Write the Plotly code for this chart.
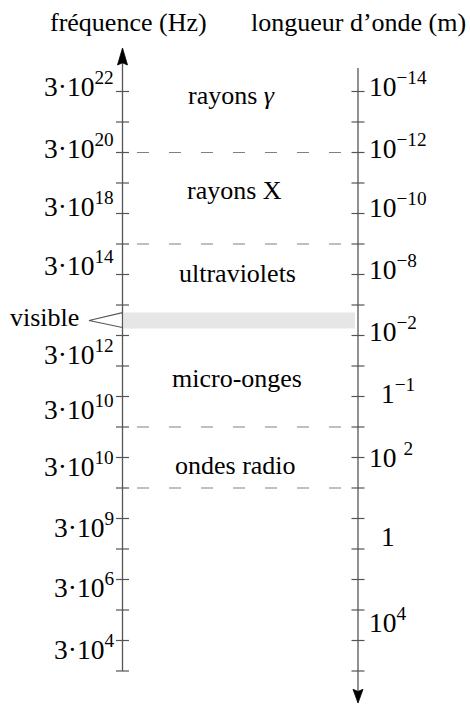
import plotly.graph_objects as go

# ---- data -------------------------------------------------------------
# Vertical positions are expressed in "graduation" units: 0 is the first
# graduation near the top, 19 the last one at the bottom.
n_grad = 20

freq_labels = ["3·10<sup>22</sup>", "3·10<sup>20</sup>", "3·10<sup>18</sup>",
               "3·10<sup>14</sup>", "3·10<sup>12</sup>", "3·10<sup>10</sup>",
               "3·10<sup>10</sup>", "3·10<sup>9</sup>", "3·10<sup>6</sup>",
               "3·10<sup>4</sup>"]
freq_at = [0.18, 2.21, 4.11, 6.05, 8.97, 10.77, 12.64, 14.64, 16.61, 18.64]

wave_labels = ["10<sup>−14</sup>", "10<sup>−12</sup>", "10<sup>−10</sup>",
               "10<sup>−8</sup>", "10<sup>−2</sup>", "1<sup>−1</sup>",
               "10 <sup>2</sup>", "1", "10<sup>4</sup>"]
wave_at = [0.18, 2.21, 4.15, 6.18, 8.21, 10.25, 12.34, 14.93, 17.77]

domains = ["rayons <i>γ</i>", "rayons X", "ultraviolets", "micro-onges", "ondes radio"]
domain_at = [0.44, 3.56, 6.28, 9.72, 12.57]
domain_x = [231, 234, 237, 237, 235]

boundaries = [2, 5, 11, 13]          # dashed separations between domains
visible_band = [7.25, 7.77]

# ---- geometry / style -------------------------------------------------
W, H = 470, 704
Y_RANGE = [20.082, -3.0]
PX = H / (Y_RANGE[0] - Y_RANGE[1])   # pixels per graduation
X_LEFT, X_RIGHT = 122.5, 358
TICK_HALF = 6.5
AX_COL = "#555555"
FONT = "Liberation Serif"
FS = 26          # titles and domain names
FS_TICK = 27.5   # graduation labels


def base_to_y(k, fs=FS):
    """annotation y (yanchor bottom) for a text whose baseline sits at k"""
    return k + (0.216 * fs + 1) / PX


fig = go.Figure()
shapes = []
annotations = []

# visible band
shapes.append(dict(type="rect", x0=X_LEFT + 1, x1=355,
                   y0=visible_band[0], y1=visible_band[1],
                   fillcolor="#e6e6e6", line=dict(width=0), layer="below"))

# dashed separations
for k in boundaries:
    shapes.append(dict(type="line", x0=137, x1=341, y0=k, y1=k,
                       line=dict(color="#808080", width=1.2, dash="12px,20px")))

# axes
shapes.append(dict(type="line", x0=X_LEFT, x1=X_LEFT, y0=-1.2, y1=n_grad - 1,
                   line=dict(color=AX_COL, width=1.3)))
shapes.append(dict(type="line", x0=X_RIGHT, x1=X_RIGHT, y0=-0.77, y1=19.8,
                   line=dict(color=AX_COL, width=1.3)))

# graduations
for k in range(n_grad):
    for xc in (X_LEFT, X_RIGHT):
        shapes.append(dict(type="line", x0=xc - TICK_HALF, x1=xc + TICK_HALF,
                           y0=k, y1=k, line=dict(color=AX_COL, width=1.2)))

# arrow heads (frequency grows upward, wavelength grows downward)
tipL, baseL = -1.426, -0.87
shapes.append(dict(type="path",
                   path=f"M {X_LEFT} {tipL} L {X_LEFT - 5} {baseL} "
                        f"L {X_LEFT} {baseL - 0.07} L {X_LEFT + 5} {baseL} Z",
                   fillcolor="black", line=dict(color="black", width=0.8)))
tipR, baseR = 20.05, 19.6
shapes.append(dict(type="path",
                   path=f"M {X_RIGHT} {tipR} L {X_RIGHT - 5} {baseR} "
                        f"L {X_RIGHT} {baseR + 0.07} L {X_RIGHT + 5} {baseR} Z",
                   fillcolor="black", line=dict(color="black", width=0.8)))

# pointer to the visible band
vis_mid = (visible_band[0] + visible_band[1]) / 2
shapes.append(dict(type="path",
                   path=f"M {X_LEFT} {visible_band[0]} L 89 {vis_mid} "
                        f"L {X_LEFT} {visible_band[1] - 0.03}",
                   line=dict(color=AX_COL, width=1.1)))


def txt(text, x, k, xanchor, fs=FS):
    annotations.append(dict(text=text, x=x, y=base_to_y(k, fs), xref="x", yref="y",
                            xanchor=xanchor, yanchor="bottom", showarrow=False,
                            font=dict(family=FONT, size=fs, color="black")))


# titles
txt("fréquence (Hz)", 128, -1.95, "center")
txt("longueur d’onde (m)", 358.5, -1.95, "center")

# frequency labels
for lab, k in zip(freq_labels, freq_at):
    txt(lab, 116, k, "right", FS_TICK)

# wavelength labels
for lab, k in zip(wave_labels, wave_at):
    x = 379 if lab.startswith("1<") or lab == "1" else 367
    txt(lab, x, k, "left", FS_TICK)

# domain names
for lab, k, x in zip(domains, domain_at, domain_x):
    txt(lab, x, k, "center")

txt("visible", 44, 7.75, "center")

# invisible trace so the axes are set up
fig.add_trace(go.Scatter(x=[0, W], y=[0, 0], mode="markers",
                         marker=dict(opacity=0), hoverinfo="skip", showlegend=False))

fig.update_layout(
    width=W, height=H, margin=dict(l=0, r=0, t=0, b=0),
    paper_bgcolor="white", plot_bgcolor="white",
    xaxis=dict(range=[0, W], visible=False, fixedrange=True),
    yaxis=dict(range=Y_RANGE, visible=False, fixedrange=True),
    shapes=shapes, annotations=annotations, showlegend=False,
)

fig.write_html("out.html")
